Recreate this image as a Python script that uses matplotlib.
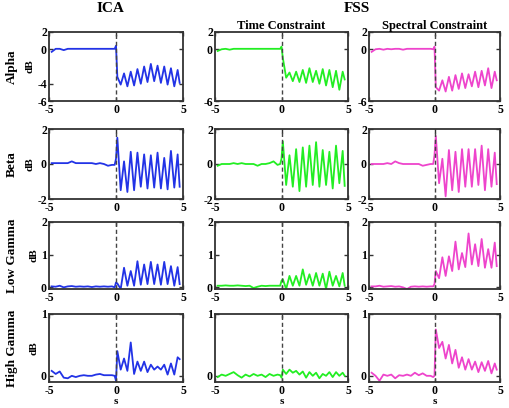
import numpy as np
import matplotlib.pyplot as plt

plt.rcParams['font.family'] = ['Liberation Serif', 'DejaVu Serif']
plt.rcParams['font.weight'] = 'bold'
plt.rcParams['axes.unicode_minus'] = False

# time grid shared by every trace (s)
t_pre = np.round(np.arange(-4.8, -0.25, 0.3), 2)      # -4.8 .. -0.3
t_onset = [-0.1, 0.0, 0.1]
t_post = np.round(np.arange(0.35, 4.65, 0.25), 2)      # 0.35 .. 4.6
t_end = [4.75]
t = np.concatenate([t_pre, t_onset, t_post, t_end])

bands = ['Alpha', 'Beta', 'Low Gamma', 'High Gamma']
methods = ['ICA', 'Time Constraint', 'Spectral Constraint']
colors = ['#2233e6', '#22ee22', '#ee44cc']

# --- Alpha ---
ica_alpha = ([-0.3, 0.05, 0.05, -0.1, 0.05, 0.05, 0.05, 0.05, 0.05, 0.05, 0.05, 0.05, 0.05, 0.05, 0.05, 0.05]
             + [0.05, 0.4, -3.2]
             + [-4.1, -2.8, -4.3, -2.6, -4.2, -2.3, -4.0, -2.0, -3.8, -1.7, -3.7, -1.9, -3.9, -2.0, -4.1, -2.2, -4.3, -2.4]
             + [-3.9])
time_alpha = ([-0.2, 0.0, 0.05, -0.05, 0.05, 0.05, 0.05, 0.05, 0.05, 0.05, 0.05, 0.05, 0.05, 0.05, 0.05, 0.05]
              + [0.05, 0.3, -1.0]
              + [-3.3, -2.7, -3.7, -2.6, -3.8, -2.4, -3.9, -2.2, -3.8, -2.5, -4.0, -2.3, -4.2, -2.4, -4.4, -2.5, -4.7, -2.6]
              + [-3.5])
spec_alpha = ([-0.3, 0.0, 0.05, -0.05, 0.05, 0.0, 0.05, 0.05, -0.05, 0.05, 0.05, 0.05, 0.05, 0.05, 0.05, 0.05]
              + [0.0, 0.3, -4.4]
              + [-4.8, -3.6, -4.9, -3.2, -4.8, -3.0, -4.6, -2.8, -4.5, -2.9, -4.3, -2.6, -4.4, -2.5, -4.2, -2.2, -4.5, -2.6]
              + [-3.6])

# --- Beta ---
ica_beta = ([0.05, 0.05, 0.05, 0.05, 0.05, 0.15, 0.05, 0.05, 0.05, 0.05, 0.05, 0.0, 0.05, 0.0, -0.1, -0.05]
            + [-0.05, 0.3, 1.5]
            + [-1.5, 0.15, -1.6, 0.7, -1.5, 0.65, -1.3, 0.55, -1.4, 0.5, -1.35, 0.65, -1.4, 0.35, -1.45, 0.75, -1.35, 0.55]
            + [-1.3])
time_beta = ([-0.1, 0.0, 0.0, 0.0, 0.05, 0.0, 0.05, 0.0, 0.0, 0.0, -0.1, 0.0, 0.0, 0.05, 0.15, -0.05]
             + [0.0, 0.3, 1.3]
             + [-1.2, 0.5, -1.3, 0.85, -1.55, 0.95, -1.3, 1.05, -1.2, 1.25, -1.3, 0.8, -1.2, 0.7, -1.4, 1.05, -1.1, 0.75]
             + [-1.25])
spec_beta = ([0.0, 0.0, 0.0, 0.0, 0.05, 0.0, 0.15, 0.05, 0.0, 0.0, 0.0, 0.0, 0.0, -0.1, -0.05, 0.0]
             + [0.0, 0.5, 1.6]
             + [-1.1, 0.3, -1.85, 0.8, -1.5, 0.7, -1.6, 0.85, -1.3, 0.85, -1.3, 0.85, -1.2, 1.05, -1.5, 0.85, -1.3, 0.65]
             + [-1.15])

# --- Low Gamma ---
ica_low = ([0.03, 0.02, 0.05, 0.0, 0.03, 0.04, 0.02, 0.03, 0.02, 0.03, 0.01, 0.03, 0.02, 0.03, 0.02, 0.03]
           + [0.0, 0.15, 0.12]
           + [-0.05, 0.6, 0.05, 0.5, 0.05, 0.8, 0.08, 0.7, 0.1, 0.78, 0.1, 0.7, 0.08, 0.78, 0.1, 0.65, 0.05, 0.62]
           + [0.1])
time_low = ([0.05, 0.05, 0.06, 0.05, 0.05, 0.06, 0.05, 0.04, 0.05, -0.02, 0.02, 0.05, 0.04, 0.05, 0.05, 0.05]
            + [0.05, 0.2, 0.25]
            + [-0.05, 0.35, 0.05, 0.35, 0.05, 0.55, 0.08, 0.4, 0.05, 0.44, 0.05, 0.42, -0.05, 0.48, 0.05, 0.35, 0.03, 0.44]
            + [0.05])
spec_low = ([0.03, 0.03, 0.05, 0.02, 0.03, 0.04, 0.02, 0.03, 0.0, -0.05, 0.02, 0.03, 0.02, 0.03, 0.02, 0.03]
            + [0.03, 0.1, 0.5]
            + [0.28, 0.92, 0.35, 0.95, 0.5, 1.4, 0.55, 1.05, 0.62, 1.65, 0.7, 1.32, 0.65, 1.48, 0.6, 1.17, 0.6, 1.37]
            + [0.65])

# --- High Gamma ---
ica_high = ([0.08, 0.03, 0.07, -0.03, -0.04, 0.0, -0.02, 0.0, 0.01, 0.0, 0.0, 0.02, 0.03, 0.01, 0.01, 0.01]
            + [0.0, -0.08, 0.4]
            + [0.1, 0.28, 0.08, 0.54, 0.03, 0.23, 0.08, 0.23, 0.06, 0.18, 0.1, 0.15, 0.1, 0.18, 0.02, 0.2, 0.02, 0.3]
            + [0.27])
time_high = ([-0.02, 0.02, 0.0, 0.03, 0.06, 0.01, -0.03, 0.02, -0.01, 0.03, 0.0, 0.02, -0.02, 0.03, 0.0, 0.02]
             + [0.01, -0.03, 0.1]
             + [0.03, 0.1, 0.05, 0.08, 0.02, 0.07, -0.03, 0.06, 0.0, 0.05, -0.04, 0.03, 0.0, 0.06, -0.02, 0.06, 0.0, 0.05]
             + [0.0])
spec_high = ([0.05, 0.0, -0.08, 0.02, 0.0, 0.02, -0.04, 0.01, 0.0, 0.02, 0.0, 0.05, 0.01, 0.04, 0.0, 0.0]
             + [-0.02, 0.0, 0.75]
             + [0.45, 0.55, 0.28, 0.5, 0.2, 0.42, 0.13, 0.3, 0.1, 0.27, 0.1, 0.23, 0.06, 0.22, 0.08, 0.24, 0.04, 0.2]
             + [0.1])

data = [[ica_alpha, time_alpha, spec_alpha],
        [ica_beta, time_beta, spec_beta],
        [ica_low, time_low, spec_low],
        [ica_high, time_high, spec_high]]

ylims = [(-6, 2), (-2, 2), (-0.05, 2), (-0.1, 1)]
yticks = [[[-6, -4, 0, 2], [-6, 0, 2], [-6, 0, 2]],
          [[-2, 0, 2]] * 3,
          [[0, 1, 2]] * 3,
          [[0, 1]] * 3]

W, H = 509, 408
fig = plt.figure(figsize=(W / 100, H / 100), dpi=100)

col_left = [49, 215, 369]
col_w = [134, 133, 131]
row_top = [32, 129, 222, 314]
row_h = [69, 70, 67, 68]

for r in range(4):
    for c in range(3):
        ax = fig.add_axes([col_left[c] / W, 1 - (row_top[r] + row_h[r]) / H,
                           col_w[c] / W, row_h[r] / H])
        ax.plot(t, data[r][c], color=colors[c], lw=1.3, solid_joinstyle='round')
        ax.axvline(0, color='#444444', ls='--', lw=1, dashes=(3, 2))
        ax.set_xlim(-5, 5)
        ax.set_ylim(*ylims[r])
        ax.set_xticks([-5, 0, 5])
        ax.set_yticks(yticks[r][c])
        ax.set_xticklabels(['-5', '0', '5'])
        ax.tick_params(direction='in', length=3, width=1, top=True, right=True,
                       labelsize=8.5, color='#333333')
        ax.tick_params(axis='x', pad=2.5)
        ax.tick_params(axis='y', pad=1.5)
        for lab in ax.get_xticklabels() + ax.get_yticklabels():
            lab.set_fontweight('bold')
        for sp in ax.spines.values():
            sp.set_linewidth(1.3)
            sp.set_color('#333333')
        if c == 0:
            ax.set_ylabel('dB', fontsize=8, fontweight='bold', labelpad=2)
            fig.text(12 / W, 1 - (row_top[r] + row_h[r] / 2) / H, bands[r],
                     rotation=90, ha='center', va='center', fontsize=9.5, fontweight='bold')
        if r == 0 and c > 0:
            ax.set_title(methods[c], fontsize=9, fontweight='bold', pad=2)
        if r == 3:
            fig.text((col_left[c] + col_w[c] / 2) / W, 1 - 401 / H, 's',
                     ha='center', va='center', fontsize=8, fontweight='bold')

fig.text(110 / W, 1 - 9 / H, 'ICA', ha='center', va='center', fontsize=11, fontweight='bold')
fig.text(357 / W, 1 - 9 / H, 'FSS', ha='center', va='center', fontsize=11, fontweight='bold')

fig.savefig('out.png', dpi=100)
